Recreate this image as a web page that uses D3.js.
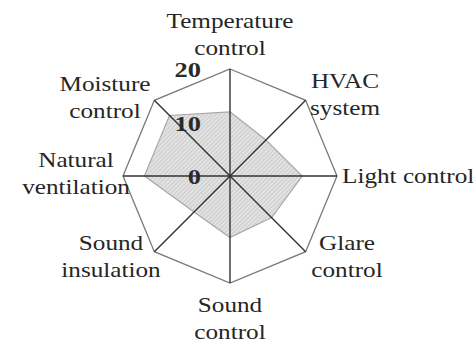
<!DOCTYPE html>
<html>
<head>
<meta charset="utf-8">
<script src="https://cdn.jsdelivr.net/npm/d3@7"></script>
<style>
  html, body { margin: 0; padding: 0; background: #fff; }
  svg { display: block; }
</style>
</head>
<body>
<svg id="chart" width="473" height="344"></svg>
<script>
// Radar categories (clockwise from the top), one label line per entry
const categories = [
  ["Temperature", "control"],
  ["HVAC", "system"],
  ["Light control"],
  ["Glare", "control"],
  ["Sound", "control"],
  ["Sound", "insulation"],
  ["Natural", "ventilation"],
  ["Moisture", "control"]
];
const scores = [12, 9.5, 13.5, 11, 11.5, 9.5, 16, 16];
const tickValues = [0, 10, 20];
const maxValue = 20;

const width = 473, height = 344;
const cx = 230, cy = 176, R = 107;
const fontFamily = '"Liberation Serif", "Times New Roman", Tinos, serif';

// Label layout: anchor point, text-anchor and baseline of first line
const labelLayout = [
  { x: 230, y: 28, anchor: "middle" },
  { x: 345, y: 88, anchor: "middle" },
  { x: 342, y: 183, anchor: "start" },
  { x: 347, y: 250, anchor: "middle" },
  { x: 230, y: 312, anchor: "middle" },
  { x: 111, y: 250, anchor: "middle" },
  { x: 76, y: 167, anchor: "middle" },
  { x: 105, y: 91, anchor: "middle" }
];
const lineGap = 27;
const stretch = 1.2;

const svg = d3.select("#chart");

const defs = svg.append("defs");
const pat = defs.append("pattern")
  .attr("id", "hatch")
  .attr("patternUnits", "userSpaceOnUse")
  .attr("width", 3).attr("height", 3)
  .attr("patternTransform", "rotate(45)");
pat.append("rect").attr("width", 3).attr("height", 3).attr("fill", "#e2e2e2");
pat.append("line").attr("x1", 0).attr("y1", 0).attr("x2", 0).attr("y2", 3)
  .attr("stroke", "#bdbdbd").attr("stroke-width", 1.2);

const angle = d3.scaleLinear().domain([0, categories.length]).range([0, 2 * Math.PI]);
const r = d3.scaleLinear().domain([0, maxValue]).range([0, R]);

const g = svg.append("g").attr("transform", `translate(${cx},${cy})`);

const radial = d3.lineRadial()
  .angle((d, i) => angle(i))
  .radius(d => r(d))
  .curve(d3.curveLinearClosed);

// Outer grid octagon
g.append("path")
  .datum(categories.map(() => maxValue))
  .attr("d", radial)
  .attr("fill", "none")
  .attr("stroke", "#7a7a7a")
  .attr("stroke-width", 1.3);

// Score polygon
g.append("path")
  .datum(scores)
  .attr("d", radial)
  .attr("fill", "url(#hatch)")
  .attr("stroke", "#a8a8a8")
  .attr("stroke-width", 1.2);

// Spokes
g.selectAll("line.spoke")
  .data(categories)
  .join("line")
  .attr("class", "spoke")
  .attr("x1", 0).attr("y1", 0)
  .attr("x2", (d, i) => r(maxValue) * Math.sin(angle(i)))
  .attr("y2", (d, i) => -r(maxValue) * Math.cos(angle(i)))
  .attr("stroke", "#333")
  .attr("stroke-width", 1.4);

// Scale values
g.selectAll("text.tick")
  .data(tickValues)
  .join("text")
  .attr("class", "tick")
  .attr("transform", d => `translate(-29,${-r(d) + 8}) scale(${stretch},1)`)
  .attr("text-anchor", "end")
  .style("font-family", fontFamily)
  .attr("font-size", 22)
  .attr("font-weight", "bold")
  .attr("fill", "#2a2a2a")
  .text(d => d);

// Category labels
const labels = svg.selectAll("text.cat")
  .data(categories)
  .join("text")
  .attr("class", "cat")
  .attr("text-anchor", (d, i) => labelLayout[i].anchor)
  .attr("transform", (d, i) => `translate(${labelLayout[i].x},${labelLayout[i].y}) scale(${stretch},1)`)
  .style("font-family", fontFamily)
  .attr("font-size", 21)
  .attr("fill", "#262626");

labels.selectAll("tspan")
  .data(d => d)
  .join("tspan")
  .attr("x", 0)
  .attr("y", (d, i) => i * lineGap)
  .text(d => d);
</script>
</body>
</html>
